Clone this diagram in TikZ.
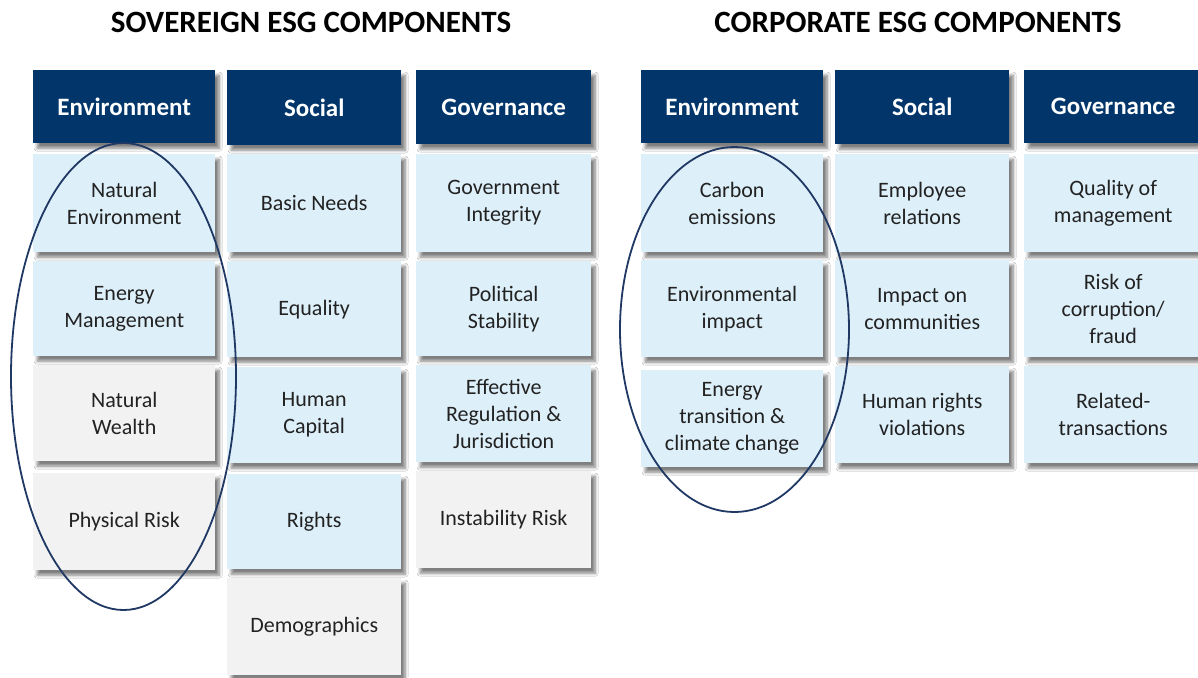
\documentclass[tikz,border=0pt]{standalone}
\usepackage{fontspec}
\setmainfont{Carlito}
\usetikzlibrary{shadows.blur}
\definecolor{esgnavy}{HTML}{02366A}
\definecolor{esgblue}{HTML}{DDEFF9}
\definecolor{esggray}{HTML}{F2F2F2}
\definecolor{esgtext}{HTML}{222222}
\definecolor{ovalline}{HTML}{1F3864}
\tikzset{
  boxshadow/.style={blur shadow={shadow xshift=4pt, shadow yshift=-5pt,
      shadow blur radius=3pt, shadow blur steps=8, shadow opacity=50}},
  cellbase/.style={anchor=north west, inner sep=0pt, align=center,
      text=esgtext, font=\fontsize{22}{27}\selectfont, boxshadow},
  hdr/.style={anchor=north west, inner sep=0pt, fill=esgnavy, text=white,
      font=\bfseries\fontsize{25}{30}\selectfont, boxshadow},
  cellb/.style={cellbase, fill=esgblue},
  cellg/.style={cellbase, fill=esggray},
  title/.style={font=\bfseries\fontsize{31}{36}\selectfont, text=black},
  oval/.style={draw=ovalline, line width=1.8pt},
}
\begin{document}
\begin{tikzpicture}[x=1pt, y=-1pt]
\useasboundingbox[fill=white] (0,0) rectangle (1198,677);

% titles
\node[title] (tsov) at (311,22) {SOVEREIGN ESG COMPONENTS};
\node[title] (tcorp) at (918,22) {CORPORATE ESG COMPONENTS};

% ---- sovereign: headers
\node[hdr, minimum width=182pt, minimum height=73pt] (sE) at (33,70) {Environment};
\node[hdr, minimum width=174pt, minimum height=75pt] (sS) at (227,70) {Social};
\node[hdr, minimum width=175pt, minimum height=74pt] (sG) at (416,70) {Governance};

% sovereign: environment column
\node[cellb, minimum width=182pt, minimum height=98pt] (sE1) at (33,154) {Natural\\Environment};
\node[cellb, minimum width=182pt, minimum height=95pt] (sE2) at (33,261) {Energy\\Management};
\node[cellg, minimum width=182pt, minimum height=96pt] (sE3) at (33,365) {Natural\\Wealth};
\node[cellg, minimum width=182pt, minimum height=97pt] (sE4) at (33,473) {Physical Risk};

% sovereign: social column
\node[cellb, minimum width=174pt, minimum height=98pt] (sS1) at (227,154) {Basic Needs};
\node[cellb, minimum width=174pt, minimum height=96pt] (sS2) at (227,261) {Equality};
\node[cellb, minimum width=174pt, minimum height=96pt] (sS3) at (227,367) {Human\\Capital};
\node[cellb, minimum width=174pt, minimum height=95pt] (sS4) at (227,474) {Rights};
\node[cellg, minimum width=174pt, minimum height=97pt] (sS5) at (227,578) {Demographics};

% sovereign: governance column
\node[cellb, minimum width=175pt, minimum height=98pt] (sG1) at (416,154) {Government\\Integrity};
\node[cellb, minimum width=175pt, minimum height=95pt] (sG2) at (416,261) {Political\\Stability};
\node[cellb, minimum width=175pt, minimum height=97pt] (sG3) at (416,365) {Effective\\Regulation \&\\Jurisdiction};
\node[cellg, minimum width=175pt, minimum height=97pt] (sG4) at (416,471) {Instability Risk};

% ---- corporate: headers
\node[hdr, minimum width=182pt, minimum height=73pt] (cE) at (641,70) {Environment};
\node[hdr, minimum width=174pt, minimum height=74pt] (cS) at (835,70) {Social};
\node[hdr, minimum width=178pt, minimum height=73pt] (cG) at (1024,70) {Governance};

% corporate: environment column
\node[cellb, minimum width=182pt, minimum height=98pt] (cE1) at (641,154) {Carbon\\emissions};
\node[cellb, minimum width=182pt, minimum height=97pt] (cE2) at (641,260) {Environmental\\impact};
\node[cellb, minimum width=182pt, minimum height=97pt] (cE3) at (641,370) {Energy\\transition \&\\climate change};

% corporate: social column
\node[cellb, minimum width=174pt, minimum height=98pt] (cS1) at (835,154) {Employee\\relations};
\node[cellb, minimum width=174pt, minimum height=97pt] (cS2) at (835,260) {Impact on\\communities};
\node[cellb, minimum width=174pt, minimum height=97pt] (cS3) at (835,366) {Human rights\\violations};

% corporate: governance column
\node[cellb, minimum width=178pt, minimum height=98pt] (cG1) at (1024,154) {Quality of\\management};
\node[cellb, minimum width=178pt, minimum height=97pt] (cG2) at (1024,260) {Risk of\\corruption/\\fraud};
\node[cellb, minimum width=178pt, minimum height=97pt] (cG3) at (1024,366) {Related-\\transactions};

% highlight ovals around the environment items
\draw[oval] (123.5,376.5) ellipse [x radius=112.5pt, y radius=233.5pt];
\draw[oval] (734.5,329.5) ellipse [x radius=114.5pt, y radius=182.5pt];
\end{tikzpicture}
\end{document}
